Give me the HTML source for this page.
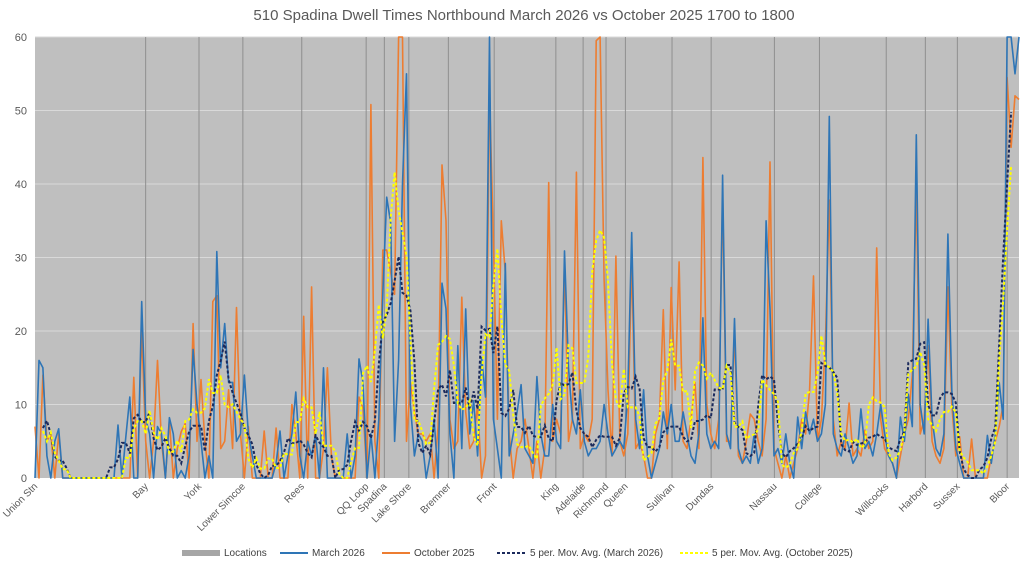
<!DOCTYPE html>
<html><head><meta charset="utf-8"><style>
body{margin:0;background:#fff;font-family:"Liberation Sans",sans-serif}
svg{display:block}
</style></head><body>
<svg id="chart" width="1024" height="562">
<text x="524" y="20" text-anchor="middle" font-size="15" fill="#595959">510 Spadina Dwell Times Northbound March 2026 vs October 2025 1700 to 1800</text>
<rect x="35" y="37" width="984" height="441" fill="#bfbfbf"/>
<g id="grid"></g><g id="locs"></g><g id="yt"></g><g id="xt"></g><g id="series"></g>
<g id="legend" font-size="10" fill="#404040">
<g><rect x="182" y="550" width="38" height="6" fill="#a6a6a6"/><text x="224" y="556">Locations</text></g>
<g><line x1="280" y1="553" x2="308" y2="553" stroke="#2e75b6" stroke-width="2"/><text x="312" y="556">March 2026</text></g>
<g><line x1="382" y1="553" x2="410" y2="553" stroke="#ed7d31" stroke-width="2"/><text x="414" y="556">October 2025</text></g>
<g><line x1="497" y1="553" x2="525" y2="553" stroke="#1b2a5c" stroke-width="2" stroke-dasharray="3,2"/><text x="530" y="556">5 per. Mov. Avg. (March 2026)</text></g>
<g><line x1="680" y1="553" x2="708" y2="553" stroke="#ffff00" stroke-width="2" stroke-dasharray="3,2"/><text x="712" y="556">5 per. Mov. Avg. (October 2025)</text></g>
</g>
</svg>
<script>
const locationNames=["Union Stn","Bay","York","Lower Simcoe","Rees","QQ Loop","Spadina","Lake Shore","Bremner","Front","King","Adelaide","Richmond","Queen","Sullivan","Dundas","Nassau","College","Willcocks","Harbord","Sussex","Bloor"];
const locationIndex=[0,28,41.5,52.6,67.5,83.8,88.4,94.6,104.6,116.2,131.8,138.7,144.5,149.4,161.2,171.1,187.1,198.5,215.4,225.3,233.4,246];
const yTicks=[0,10,20,30,40,50,60];
const march=[0,16,15,3,0,5,6.7,0,0,0, 0,0,0,0,0,0,0,0,0,0,
0,7.2,0,5.7,11,0,0,24,8,6, 0,7,6,0,8.2,6,0,1,0,3,
17.5,10,5,0,3,0,30.8,15,21,13, 13,5,6,14,6,3,0,0,0,0,
0,2,6.4,0,3,6,11.7,3,0,5, 3,6,0,15,0,0,0,0,0,6,
0,3,16.2,13,0,6,0,8,25,38.2, 34.7,5,16,40,55,10,3,6,5,0,
3,8,0,26.5,23,6,0,18,4,23, 6,10.5,3,16.4,11,62,8,4,0,29.2,
3,6,9,12.7,4,3,2,13.8,6,3, 3,10,5,4,30.9,15,8,6,12,5,
3,4,4,5,10,6,3,4,5,4, 11.5,33.4,8,4,12,3,0,2,4,9,
6,10,5,5,9,6,3,2,6,21.8, 6,4,5,4,41.2,6,4,21.7,4,2,
3,2,6,2,4,35,23,3,4,2, 6,2,0,8.3,4,9,6,8,5,6,
10,49.2,6,4,3,6,4,2,3,9.4, 4,5,3,6,10,6,3,2,0,8.3,
5,11.4,7,46.7,10,6,21.6,8,4,3, 6,33.2,12,4,2,0,0,0,0,0,
0,5.8,2,6,13,8,62,62,55,62];
const october=[7,0,14,5,6,0,6,0,0,0, 0,0,0,0,0,0,0,0,0,0,
0,0,0,0,0,13.7,0,20,5,0, 5,16,5,0,7.8,0,4,6.3,7.4,0,
21,5,13.4,5,0,24,24.8,4,5,12, 4,23.2,6,0,7,0,0,0,6.4,0,
0,6.8,0,0,0,10,6,0,22,0, 26,0,0,4,15,3,0,0,0,0,
0,0,11,9.5,0,50.8,5,0,31,31, 28,25,62,62,5,13,9,6,6,5,
6,0,7,42.6,35,8,4,5,24.6,9, 4,5,10,0,3,52.5,32.4,8,35,28,
6,0,4,5,8,4,0,5,0,4, 40.2,5,8,6,29.6,5,8,41.6,4,6,
5,8,59.5,62,27,12,3,30.2,5,3, 6,30,4,5,3,0,0,6,8,22.9,
4,25.9,12,29.4,5,4,8,13,4,43.6, 10,6,4,8,38.5,5,5,19.8,3,2,
5,8.7,8,5,3,8,43,4,2,0, 3,0,2,4,8,6,12,27.5,5,8,
18.5,37.8,8,3,5,4,10.2,3,4,3, 6.5,4,5,31.3,8,4,3,2,0,3,
6,8,14,39.8,6,8,18,5,3,2, 4,26,10,3,5.6,0,0,5.3,0,0,
0,0,3,5,7,10,54.5,45,52,51.5];

const NS="http://www.w3.org/2000/svg";
const X0=35,X1=1019,Y0=478,Y1=37,YMAX=60,N=march.length;
const xs=i=>X0+i*(X1-X0)/(N-1);
const ys=v=>Y0-Math.min(v,YMAX)/YMAX*(Y0-Y1);
function mk(tag,attrs,parent){const e=document.createElementNS(NS,tag);for(const k in attrs)e.setAttribute(k,attrs[k]);document.getElementById(parent).appendChild(e);return e;}
yTicks.forEach(t=>{
  if(t>0){const g=mk('line',{x1:X0,x2:X1,y1:ys(t),y2:ys(t),stroke:'#d9d9d9','stroke-width':1},'grid');
  
  }
  const tx=mk('text',{x:27,y:ys(t)+4,'text-anchor':'end','font-size':11,fill:'#595959'},'yt');
  tx.textContent=t;
  
  
});
locationNames.forEach((n,k)=>{
  const x=xs(locationIndex[k]);
  if(k>0){const l=mk('line',{x1:x,x2:x,y1:Y1,y2:Y0,stroke:'#8f8f8f','stroke-width':1},'locs');
  
  }
  const t=mk('text',{x:0,y:0,'text-anchor':'end','font-size':10,fill:'#595959',transform:`translate(${x+3},${Y0+9}) rotate(-45)`},'xt');
  t.textContent=n;
  
  
});
function ma(a){const r=[];for(let i=2;i<a.length-2;i++){let s=0;for(let j=i-2;j<=i+2;j++)s+=a[j];r.push([i,s/5]);}return r;}
function path(pts){return pts.map((p,k)=>(k?'L':'M')+xs(p[0]).toFixed(1)+','+ys(p[1]).toFixed(1)).join('');}
const s1=mk('path',{d:path(october.map((v,i)=>[i,v])),fill:'none',stroke:'#ed7d31','stroke-width':1.6,'stroke-linejoin':'round'},'series');


const s2=mk('path',{d:path(march.map((v,i)=>[i,v])),fill:'none',stroke:'#2e75b6','stroke-width':1.6,'stroke-linejoin':'round'},'series');


const s3=mk('path',{d:path(ma(march)),fill:'none',stroke:'#1b2a5c','stroke-width':2,'stroke-dasharray':'3,2'},'series');


const s4=mk('path',{d:path(ma(october)),fill:'none',stroke:'#ffff00','stroke-width':2,'stroke-dasharray':'3,2'},'series');


</script>
</body></html>
